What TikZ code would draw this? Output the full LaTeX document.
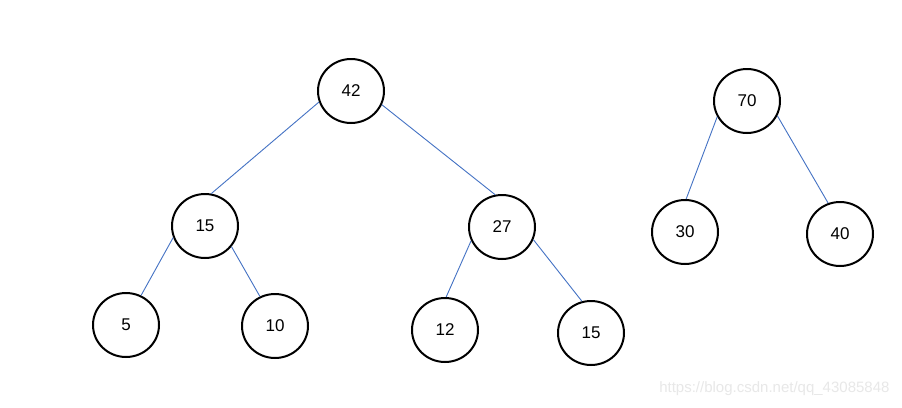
\documentclass[tikz,border=0pt]{standalone}
\usepackage{fontspec}
\setmainfont{Liberation Sans}
\usetikzlibrary{shapes.geometric}
\definecolor{edgeblue}{HTML}{4472C4}
\definecolor{wm}{HTML}{E8E8E8}
\begin{document}
\begin{tikzpicture}[x=1pt,y=-1pt,
  keynode/.style={ellipse,draw=black,line width=2pt,minimum width=66pt,minimum height=64pt,inner sep=0pt,font=\fontsize{17}{20}\selectfont},
  edge/.style={draw=edgeblue,line width=0.9pt}]
\fill[white] (0,0) rectangle (902,407);
\useasboundingbox (0,0) rectangle (902,407);
\node[keynode] (a42) at (351,91) {42};
\node[keynode] (a15) at (205,226) {15};
\node[keynode] (a27) at (502,227) {27};
\node[keynode] (a5) at (126,325) {5};
\node[keynode] (a10) at (275,326) {10};
\node[keynode] (a12) at (445,330) {12};
\node[keynode] (b15) at (591,333) {15};
\node[keynode] (a70) at (747,101) {70};
\node[keynode] (a30) at (685,232) {30};
\node[keynode] (a40) at (840,234) {40};
\draw[edge] (a42.199) -- (a15.79);
\draw[edge] (a42.336) -- (a27.102);
\draw[edge] (a15.200) -- (a5.63);
\draw[edge] (a15.322) -- (a10.117);
\draw[edge] (a27.204) -- (a12.88);
\draw[edge] (a27.338) -- (b15.106);
\draw[edge] (a70.208) -- (a30.88);
\draw[edge] (a70.334) -- (a40.111);
\node[text=wm,font=\fontsize{15}{18}\selectfont,anchor=east] (wmark) at (893,389) {https://blog.csdn.net/qq\_43085848};
\end{tikzpicture}
\end{document}
